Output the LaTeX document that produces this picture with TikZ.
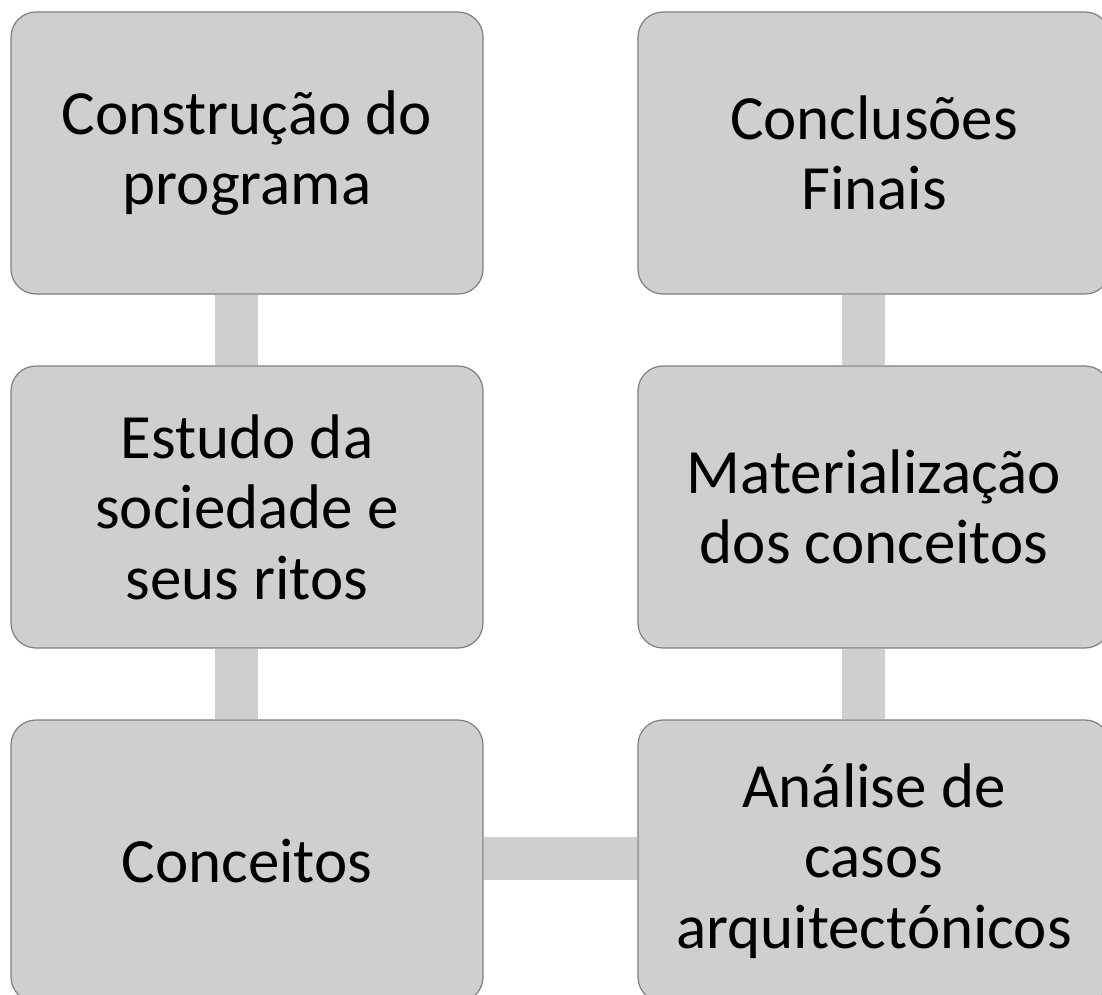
\documentclass[tikz,border=0pt]{standalone}
\usepackage{fontspec}
\setmainfont{Carlito}
\definecolor{boxfill}{HTML}{D0CECF}
\definecolor{boxline}{HTML}{7F7F7F}
\begin{document}
\begin{tikzpicture}[x=1pt,y=-1pt,
  stagebox/.style={draw=boxline, line width=1.2pt, fill=boxfill, rounded corners=25pt,
    minimum width=472pt, minimum height=282pt, inner sep=0pt, align=center,
    font=\fontsize{63}{70.5}\selectfont, text=black},
  conn/.style={draw=boxfill, line width=43pt}]
\useasboundingbox (0,0) rectangle (1102,994);
\fill[white] (0,0) rectangle (1102,994);
\node[stagebox] (A) at (247,153) {Construção do\\programa};
\node[stagebox] (B) at (247,507) {Estudo da\\sociedade e\\seus ritos};
\node[stagebox] (C) at (247,861) {Conceitos};
\node[stagebox] (D) at (874,153) {Conclusões\\Finais};
\node[stagebox] (E) at (874,507) {Materialização\\dos conceitos};
\node[stagebox] (F) at (874,861) {Análise de\\casos\\arquitectónicos};
\draw[conn] ([xshift=-10.5pt]A.south) -- ([xshift=-10.5pt]B.north);
\draw[conn] ([xshift=-10.5pt]B.south) -- ([xshift=-10.5pt]C.north);
\draw[conn] ([yshift=2.5pt]C.east) -- ([yshift=2.5pt]F.west);
\draw[conn] ([xshift=-10.5pt]F.north) -- ([xshift=-10.5pt]E.south);
\draw[conn] ([xshift=-10.5pt]E.north) -- ([xshift=-10.5pt]D.south);
\end{tikzpicture}
\end{document}
